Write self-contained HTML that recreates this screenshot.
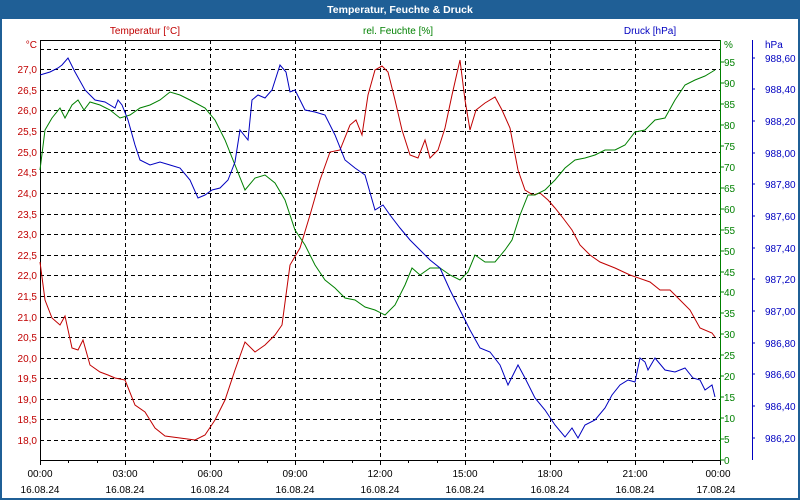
<!DOCTYPE html><html><head><style>body{margin:0;background:#fff}svg{display:block}text{font-family:"Liberation Sans",sans-serif;font-size:10px}</style></head><body>
<svg width="800" height="500" xmlns="http://www.w3.org/2000/svg">
<rect x="0" y="0" width="800" height="500" fill="#1f5f96"/>
<rect x="2" y="19" width="796" height="479" fill="#fff"/>
<text x="400" y="13" text-anchor="middle" fill="#fff" font-weight="bold" style="font-size:10.5px">Temperatur, Feuchte &amp; Druck</text>
<text x="145" y="34" text-anchor="middle" fill="#c00000">Temperatur [°C]</text>
<text x="398" y="34" text-anchor="middle" fill="#008000">rel. Feuchte [%]</text>
<text x="650" y="34" text-anchor="middle" fill="#0000c0">Druck [hPa]</text>
<g stroke="#000" stroke-width="1" stroke-dasharray="4,3" fill="none">
<path d="M40 49.5H720M40 69.5H720M40 90.5H720M40 110.5H720M40 131.5H720M40 152.5H720M40 172.5H720M40 193.5H720M40 214.5H720M40 234.5H720M40 255.5H720M40 275.5H720M40 296.5H720M40 317.5H720M40 337.5H720M40 358.5H720M40 378.5H720M40 399.5H720M40 419.5H720M40 440.5H720"/>
<path d="M125.5 40V460M210.5 40V460M295.5 40V460M380.5 40V460M465.5 40V460M550.5 40V460M635.5 40V460"/>
</g>
<path d="M40.5 40V460.5H720" stroke="#000" fill="none"/>
<path d="M40 40.5H720" stroke="#000"/>
<path d="M720.5 40V460" stroke="#008000"/>
<path d="M752.5 40V460" stroke="#0000c0"/>
<g stroke="#000">
<path d="M40.5 460v5M68.5 460v3M97.5 460v3M125.5 460v5M153.5 460v3M182.5 460v3M210.5 460v5M238.5 460v3M267.5 460v3M295.5 460v5M323.5 460v3M352.5 460v3M380.5 460v5M408.5 460v3M437.5 460v3M465.5 460v5M493.5 460v3M522.5 460v3M550.5 460v5M578.5 460v3M607.5 460v3M635.5 460v5M663.5 460v3M692.5 460v3M720.5 460v5"/>
</g>
<g fill="#c00000" text-anchor="end">
<text x="37" y="48">°C</text>
<text x="37" y="73">27,0</text><text x="37" y="94">26,5</text><text x="37" y="114">26,0</text><text x="37" y="135">25,5</text><text x="37" y="156">25,0</text><text x="37" y="176">24,5</text><text x="37" y="197">24,0</text><text x="37" y="218">23,5</text><text x="37" y="238">23,0</text><text x="37" y="259">22,5</text><text x="37" y="279">22,0</text><text x="37" y="300">21,5</text><text x="37" y="321">21,0</text><text x="37" y="341">20,5</text><text x="37" y="362">20,0</text><text x="37" y="382">19,5</text><text x="37" y="403">19,0</text><text x="37" y="423">18,5</text><text x="37" y="444">18,0</text>
</g>
<g fill="#008000">
<path d="M720 62h4M720 83h4M720 104h4M720 125h4M720 146h4M720 167h4M720 188h4M720 209h4M720 230h4M720 251h4M720 272h4M720 292h4M720 313h4M720 334h4M720 355h4M720 376h4M720 397h4M720 418h4M720 439h4M720 460h4" stroke="#008000"/>
<text x="724" y="48">%</text>
<text x="724" y="66">95</text><text x="724" y="87">90</text><text x="724" y="108">85</text><text x="724" y="129">80</text><text x="724" y="150">75</text><text x="724" y="171">70</text><text x="724" y="192">65</text><text x="724" y="213">60</text><text x="724" y="234">55</text><text x="724" y="255">50</text><text x="724" y="276">45</text><text x="724" y="296">40</text><text x="724" y="317">35</text><text x="724" y="338">30</text><text x="724" y="359">25</text><text x="724" y="380">20</text><text x="724" y="401">15</text><text x="724" y="422">10</text><text x="724" y="443">5</text><text x="724" y="464">0</text>
</g>
<g fill="#0000c0">
<path d="M752 58h3M752 89h3M752 121h3M752 153h3M752 184h3M752 216h3M752 248h3M752 279h3M752 311h3M752 343h3M752 374h3M752 406h3M752 438h3" stroke="#0000c0"/>
<text x="765" y="48">hPa</text>
<text x="765" y="62">988,60</text><text x="765" y="93">988,40</text><text x="765" y="125">988,20</text><text x="765" y="157">988,00</text><text x="765" y="188">987,80</text><text x="765" y="220">987,60</text><text x="765" y="252">987,40</text><text x="765" y="283">987,20</text><text x="765" y="315">987,00</text><text x="765" y="347">986,80</text><text x="765" y="378">986,60</text><text x="765" y="410">986,40</text><text x="765" y="442">986,20</text>
</g>
<g fill="#000" text-anchor="middle">
<text x="40" y="477">00:00</text><text x="40" y="493">16.08.24</text>
<text x="125" y="477">03:00</text><text x="125" y="493">16.08.24</text>
<text x="210" y="477">06:00</text><text x="210" y="493">16.08.24</text>
<text x="295" y="477">09:00</text><text x="295" y="493">16.08.24</text>
<text x="380" y="477">12:00</text><text x="380" y="493">16.08.24</text>
<text x="465" y="477">15:00</text><text x="465" y="493">16.08.24</text>
<text x="550" y="477">18:00</text><text x="550" y="493">16.08.24</text>
<text x="635" y="477">21:00</text><text x="635" y="493">16.08.24</text>
<text x="718" y="477">00:00</text><text x="716" y="493">17.08.24</text>
</g>
<g fill="none" stroke-width="1">
<polyline stroke="#c00000" points="40,262 45,300 52,318 60,325 65,316 72,348 78,350 83,340 90,365 100,372 108,375 115,378 125,380 135,405 145,412 155,428 165,436 180,438 195,440 205,435 215,420 225,400 235,370 245,342 255,352 265,345 275,335 282,325 290,265 300,248 310,215 320,180 330,152 340,150 350,125 356,120 362,135 368,95 375,70 382,66 388,72 395,100 402,130 410,155 418,158 425,140 430,158 438,150 445,128 452,95 460,60 465,100 470,130 476,110 485,103 495,97 502,110 510,128 518,170 525,190 533,195 540,193 548,200 555,208 563,218 572,230 580,245 590,255 600,262 615,268 630,275 650,282 660,290 670,290 680,300 690,310 700,328 712,333 715,337"/>
<polyline stroke="#008000" points="40,170 45,130 52,118 60,108 65,118 72,105 78,100 84,110 90,102 100,105 110,110 120,118 130,115 140,108 150,105 160,100 170,92 180,95 190,100 205,108 215,120 225,140 235,165 245,190 255,178 265,175 275,183 285,200 295,230 305,245 315,265 325,280 335,288 345,298 355,300 365,307 375,310 385,315 395,305 405,285 412,268 420,275 430,268 440,268 450,275 460,280 468,272 475,255 485,262 495,262 505,250 512,240 520,215 528,195 535,195 545,190 555,180 565,168 575,160 585,158 595,155 605,150 615,150 625,145 635,132 645,130 655,120 665,118 675,100 685,85 695,80 705,76 715,70"/>
<polyline stroke="#0000c0" points="40,75 50,72 58,68 62,65 68,58 75,72 85,90 95,100 105,102 115,108 118,100 122,105 128,120 135,145 140,160 150,165 160,162 170,165 180,168 190,180 198,198 205,195 212,190 220,188 228,180 235,162 240,130 248,140 252,100 258,95 265,98 272,90 280,65 286,72 290,92 295,90 300,100 305,110 315,112 325,115 335,135 345,160 355,168 365,175 375,210 383,205 390,215 400,228 410,240 420,250 430,260 440,268 450,290 460,310 470,330 480,348 490,352 500,365 508,385 513,375 518,365 525,378 535,398 545,410 555,425 565,437 572,428 578,438 585,425 595,420 605,408 612,395 620,385 628,380 635,382 640,358 645,362 648,370 655,358 665,370 675,372 685,368 693,378 700,380 705,390 712,385 715,397"/>
</g>
</svg>
</body></html>
